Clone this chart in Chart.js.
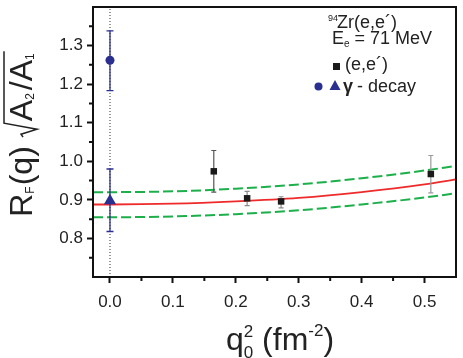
<!DOCTYPE html>
<html>
<head>
<meta charset="utf-8">
<script src="https://cdn.jsdelivr.net/npm/chart.js@4.4.1/dist/chart.umd.min.js"></script>
<style>
  html, body { margin: 0; padding: 0; background: #fff; }
  #wrap { width: 463px; height: 358px; }
</style>
</head>
<body>
<div id="wrap"><canvas id="chart" width="463" height="358"></canvas></div>
<script>
/* ---------- data ---------- */

// (e,e') points
const eeQ = [0.165, 0.218, 0.272, 0.510];
const eeR = [0.974, 0.904, 0.896, 0.967];
const eeLo = [0.920, 0.885, 0.879, 0.918];
const eeHi = [1.028, 0.922, 0.908, 1.015];

// gamma decay points
const circQ = [0];
const circR = [1.262];
const circLo = [1.183];
const circHi = [1.338];

const triQ = [0];
const triR = [0.898];
const triLo = [0.818];
const triHi = [0.980];

// fit curve and its band
const fitQ = [-0.027, 0, 0.1, 0.2, 0.3, 0.4, 0.5, 0.55];
const fitR = [0.888, 0.888, 0.890, 0.896, 0.905, 0.920, 0.940, 0.953];
const upperR = [0.920, 0.920, 0.922, 0.929, 0.940, 0.956, 0.976, 0.988];
const lowerR = [0.855, 0.855, 0.857, 0.863, 0.873, 0.888, 0.906, 0.917];

// vertical reference line at q = 0
const zeroQ = [0, 0];
const zeroR = [0.7, 1.4];

// ticks
const xMajor = [0, 0.1, 0.2, 0.3, 0.4, 0.5];
const xMinor = [0.05, 0.15, 0.25, 0.35, 0.45];
const yMajor = [0.8, 0.9, 1.0, 1.1, 1.2, 1.3];
const yMinor = [0.75, 0.85, 0.95, 1.05, 1.15, 1.25, 1.35];

const FONT = '"Liberation Sans", Arial, sans-serif';
const BLUE = '#2b2f8f';

function pts(xs, ys) {
    return xs.map((x, i) => ({ x: x, y: ys[i] }));
}

/* ---------- plugins ---------- */

// error bars, drawn once just before the first marker dataset
let errDone = false;
const errorBars = {
    id: 'errorBars',
    beforeDraw() { errDone = false; },
    beforeDatasetDraw(chart, args) {
        const ds = chart.data.datasets[args.index];
        if (errDone || !ds.errLo) return;
        errDone = true;
        const ctx = chart.ctx;
        const xs = chart.scales.x, ys = chart.scales.y;
        ctx.save();
        chart.data.datasets.forEach((d) => {
            if (!d.errLo) return;
            d.data.forEach((p, i) => {
                const px = xs.getPixelForValue(p.x);
                const yl = ys.getPixelForValue(d.errLo[i]);
                const yh = ys.getPixelForValue(d.errHi[i]);
                const c = d.errCap;
                ctx.strokeStyle = Array.isArray(d.errColor) ? d.errColor[i] : d.errColor;
                ctx.lineWidth = d.errWidth;
                ctx.beginPath();
                ctx.moveTo(px, yl); ctx.lineTo(px, yh);
                ctx.moveTo(px - c, yl); ctx.lineTo(px + c, yl);
                ctx.moveTo(px - c, yh); ctx.lineTo(px + c, yh);
                ctx.stroke();
            });
        });
        ctx.restore();
    }
};

// frame, minor ticks, axis titles, legend block
const decor = {
    id: 'decor',
    afterDraw(chart) {
        const ctx = chart.ctx;
        const a = chart.chartArea;
        const xs = chart.scales.x, ys = chart.scales.y;
        ctx.save();
        ctx.textAlign = 'left';
        ctx.textBaseline = 'alphabetic';

        // frame
        ctx.strokeStyle = '#111';
        ctx.lineWidth = 2;
        ctx.strokeRect(a.left, a.top, a.right - a.left, a.bottom - a.top);

        // minor ticks
        ctx.beginPath();
        xMinor.forEach((v) => {
            const px = xs.getPixelForValue(v);
            ctx.moveTo(px, a.bottom); ctx.lineTo(px, a.bottom + 4);
        });
        yMinor.forEach((v) => {
            const py = ys.getPixelForValue(v);
            ctx.moveTo(a.left, py); ctx.lineTo(a.left - 4, py);
        });
        ctx.stroke();

        ctx.fillStyle = '#222';

        // x title: q0^2 (fm^-2)
        const big = '32px ' + FONT, small = '17px ' + FONT;
        const xParts = [
            { t: 'q', f: big, dy: 0, adv: true },
            { t: '2', f: small, dy: -13, adv: false },
            { t: '0', f: small, dy: 8, adv: true },
            { t: ' (fm', f: big, dy: 0, adv: true },
            { t: '-2', f: small, dy: -14, adv: true },
            { t: ')', f: big, dy: 0, adv: true }
        ];
        let total = 0;
        xParts.forEach((p) => { ctx.font = p.f; p.w = ctx.measureText(p.t).width; if (p.adv) total += p.w; });
        let cx = 280 - total / 2;
        const base = 350;
        xParts.forEach((p) => {
            ctx.font = p.f;
            ctx.fillText(p.t, cx, base + p.dy);
            if (p.adv) cx += p.w;
        });

        // y title: R_F(q) sqrt(A_2/A_1)
        const yb = '32px ' + FONT, ys2 = '12px ' + FONT;
        const yParts = [
            { t: 'R', f: yb, dy: 0 },
            { t: 'F', f: ys2, dy: 2 },
            { t: '(q)', f: yb, dy: 0, gapBefore: 1 },
            { rad: true, w: 16, gapBefore: 9 },
            { t: 'A', f: yb, dy: 0 },
            { t: '2', f: ys2, dy: 2 },
            { t: '/', f: yb, dy: 0, gapBefore: 3 },
            { t: 'A', f: yb, dy: 0 },
            { t: '1', f: ys2, dy: 2 }
        ];
        let ytot = 0;
        yParts.forEach((p) => {
            if (!p.rad) { ctx.font = p.f; p.w = ctx.measureText(p.t).width; }
            ytot += p.w + (p.gapBefore || 0);
        });
        ctx.translate(32, 135);
        ctx.rotate(-Math.PI / 2);
        let lx = -ytot / 2;
        let radStart = 0;
        yParts.forEach((p) => {
            lx += p.gapBefore || 0;
            if (p.rad) {
                radStart = lx;
            } else {
                ctx.font = p.f;
                ctx.fillText(p.t, lx, p.dy);
            }
            lx += p.w;
        });
        ctx.strokeStyle = '#222';
        ctx.lineWidth = 1.5;
        ctx.beginPath();
        ctx.moveTo(radStart, -9);
        ctx.lineTo(radStart + 3, -11);
        ctx.lineTo(radStart + 8, 5);
        ctx.lineTo(radStart + 14, -28);
        ctx.lineTo(lx + 2, -28);
        ctx.stroke();
        ctx.setTransform(1, 0, 0, 1, 0, 0);

        // legend block
        const lf = '18px ' + FONT, lsm = '9px ' + FONT;
        ctx.font = lsm;
        ctx.fillText('94', 328, 21);
        ctx.font = lf;
        ctx.fillText('Zr(e,e\u00b4)', 337, 28);
        ctx.fillText('E', 332, 44);
        let ew = ctx.measureText('E').width;
        ctx.font = '10px ' + FONT;
        ctx.fillText('e', 332 + ew, 47);
        ew += ctx.measureText('e').width;
        ctx.font = lf;
        ctx.fillText(' = 71 MeV', 332 + ew, 44);

        ctx.fillStyle = '#1a1a1a';
        ctx.fillRect(333, 63, 7, 7);
        ctx.fillStyle = '#222';
        ctx.fillText('(e,e\u00b4)', 345, 70);

        ctx.fillStyle = BLUE;
        ctx.beginPath();
        ctx.arc(318.5, 86.5, 4, 0, Math.PI * 2);
        ctx.fill();
        ctx.beginPath();
        ctx.moveTo(335, 80);
        ctx.lineTo(340.5, 90);
        ctx.lineTo(329.5, 90);
        ctx.closePath();
        ctx.fill();
        ctx.fillStyle = '#222';
        ctx.font = 'bold 18px ' + FONT;
        ctx.fillText('\u03b3', 343, 92);
        ctx.font = lf;
        ctx.fillText('- decay', 357, 92);

        ctx.restore();
    }
};

/* ---------- chart ---------- */

const ctx = document.getElementById('chart').getContext('2d');

new Chart(ctx, {
    type: 'scatter',
    data: {
        datasets: [
            {
                label: '(e,e\u00b4)',
                data: pts(eeQ, eeR),
                errLo: eeLo, errHi: eeHi,
                errColor: ['#555555', '#8a8a8a', '#8a8a8a', '#9a9a9a'],
                errWidth: 1.2, errCap: 2.5,
                pointStyle: 'rect',
                pointRadius: 4.6,
                backgroundColor: '#1a1a1a',
                borderColor: '#1a1a1a',
                borderWidth: 0,
                order: 0
            },
            {
                label: 'gamma circle',
                data: pts(circQ, circR),
                errLo: circLo, errHi: circHi,
                errColor: BLUE, errWidth: 1.3, errCap: 3.5,
                pointStyle: 'circle',
                pointRadius: 4.5,
                backgroundColor: BLUE,
                borderColor: BLUE,
                borderWidth: 0,
                order: 0
            },
            {
                label: 'gamma triangle',
                data: pts(triQ, triR),
                errLo: triLo, errHi: triHi,
                errColor: BLUE, errWidth: 1.3, errCap: 3.5,
                pointStyle: 'triangle',
                pointRadius: 7,
                backgroundColor: BLUE,
                borderColor: BLUE,
                borderWidth: 0,
                order: 0
            },
            {
                label: 'fit',
                type: 'line',
                data: pts(fitQ, fitR),
                borderColor: '#ee2a2a',
                borderWidth: 1.8,
                pointRadius: 0,
                cubicInterpolationMode: 'monotone',
                order: 1
            },
            {
                label: 'upper',
                type: 'line',
                data: pts(fitQ, upperR),
                borderColor: '#1cb04a',
                borderWidth: 2,
                borderDash: [10, 4],
                pointRadius: 0,
                cubicInterpolationMode: 'monotone',
                order: 1
            },
            {
                label: 'lower',
                type: 'line',
                data: pts(fitQ, lowerR),
                borderColor: '#1cb04a',
                borderWidth: 2,
                borderDash: [10, 4],
                pointRadius: 0,
                cubicInterpolationMode: 'monotone',
                order: 1
            },
            {
                label: 'zero',
                type: 'line',
                data: pts(zeroQ, zeroR),
                borderColor: '#333',
                borderWidth: 1,
                borderDash: [1, 2],
                pointRadius: 0,
                order: 2
            }
        ]
    },
    options: {
        responsive: false,
        animation: false,
        layout: { padding: { top: 2, right: 2, left: 0, bottom: 0 } },
        plugins: {
            legend: { display: false },
            tooltip: { enabled: false }
        },
        scales: {
            x: {
                type: 'linear',
                min: -0.027,
                max: 0.55,
                afterBuildTicks: (s) => { s.ticks = xMajor.map((v) => ({ value: v })); },
                afterFit: (s) => {
                    s.height = 81;
                    s.paddingLeft = 0;
                    s.paddingRight = 0;
                },
                ticks: {
                    padding: 9,
                    color: '#222',
                    font: { family: FONT, size: 17 },
                    maxRotation: 0,
                    callback: (v) => v.toFixed(1)
                },
                grid: {
                    drawOnChartArea: false,
                    drawTicks: true,
                    tickLength: 6,
                    tickWidth: 2,
                    tickColor: '#111'
                },
                border: { display: false }
            },
            y: {
                type: 'linear',
                min: 0.7,
                max: 1.4,
                afterBuildTicks: (s) => { s.ticks = yMajor.map((v) => ({ value: v })); },
                afterFit: (s) => {
                    s.width = 93;
                    s.paddingTop = 0;
                    s.paddingBottom = 0;
                },
                ticks: {
                    padding: 4,
                    color: '#222',
                    font: { family: FONT, size: 17 },
                    callback: (v) => v.toFixed(1)
                },
                grid: {
                    drawOnChartArea: false,
                    drawTicks: true,
                    tickLength: 6,
                    tickWidth: 2,
                    tickColor: '#111'
                },
                border: { display: false }
            }
        }
    },
    plugins: [errorBars, decor]
});
</script>
</body>
</html>
